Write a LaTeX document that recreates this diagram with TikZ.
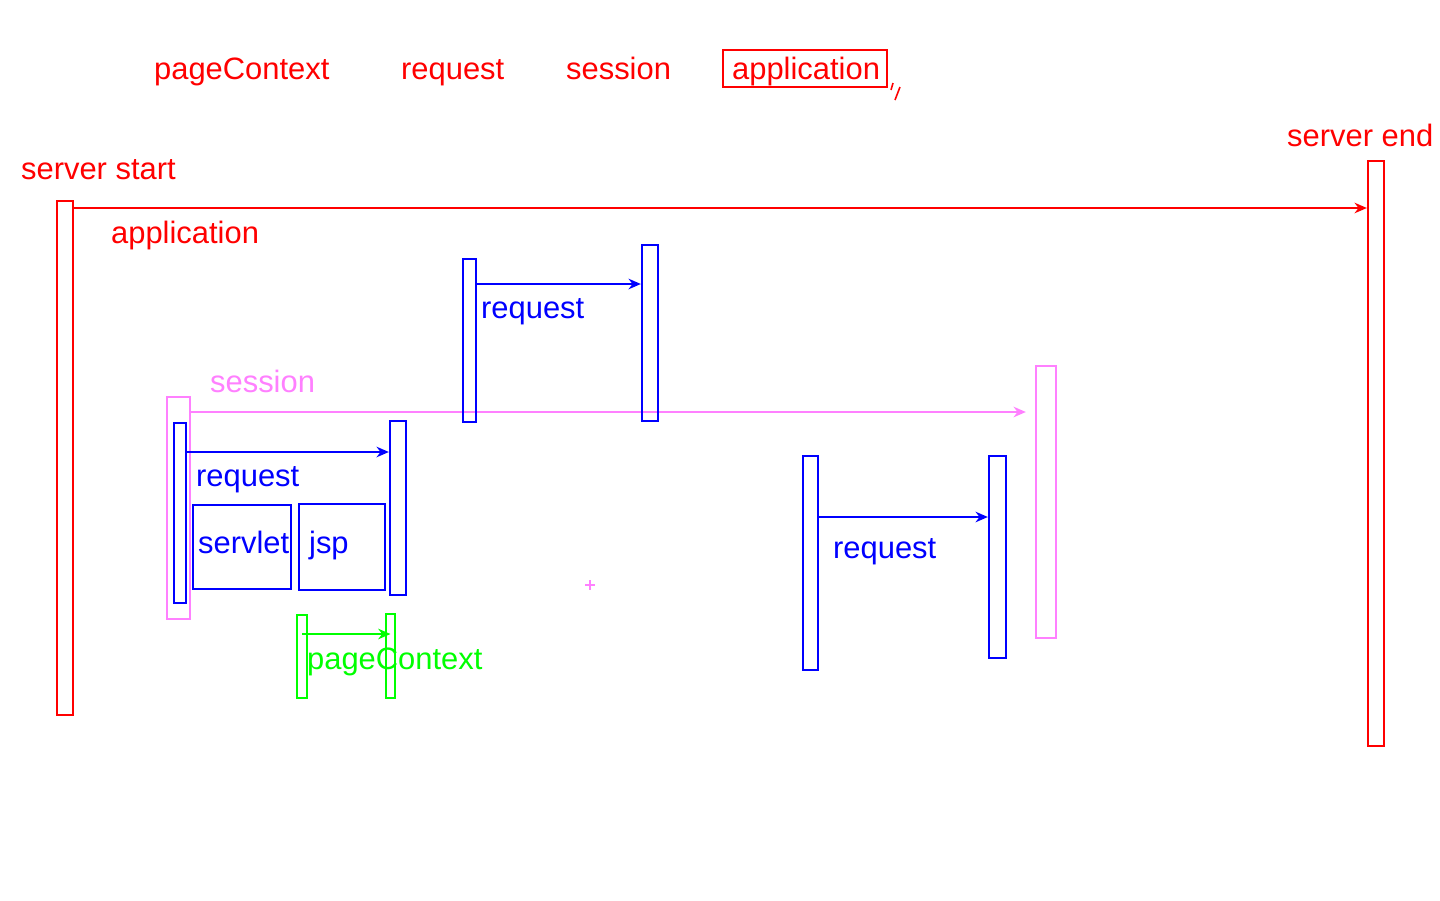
\documentclass[tikz,border=0pt]{standalone}
\usepackage{fontspec}
\setmainfont{Liberation Sans}
\usepackage{tikz}
\usetikzlibrary{arrows.meta,positioning,fit,calc}
\definecolor{sespink}{HTML}{FF80FF}
\definecolor{pcgreen}{HTML}{00FF00}

\begin{document}
\begin{tikzpicture}[x=0.02cm, y=-0.02cm, line width=1.3pt, >={Stealth[length=7pt,width=6pt]},
    bar/.style={draw, rectangle, inner sep=0pt, fill=none},
    lbl/.style={anchor=base west, inner sep=0pt, font=\fontsize{17.6}{20}\selectfont}]
    \useasboundingbox (0,0) rectangle (1440,900);

    % Legend on top
    \node[lbl, red] (lgPage) at (153,79) {pageContext};
    \node[lbl, red] (lgReq) at (400,79) {request};
    \node[lbl, red] (lgSes) at (565,79) {session};
    \node[bar, red, fit={(723,50) (887,87)}] (lgAppBox) {};
    \node[lbl, red] (lgApp) at (731,79) {application};
    \draw[red, line width=0.9pt] (893,83) -- (891,90) (900,87) -- (895,100);

    % Server lifetime (application)
    \node[bar, red, fit={(57,201) (73,715)}] (srvStart) {};
    \node[bar, red, fit={(1368,161) (1384,746)}] (srvEnd) {};
    \node[lbl, red] (lbStart) at (20,179) {server start};
    \node[lbl, red] (lbEnd) at (1286,146) {server end};
    \draw[->, red] (srvStart.east |- 0,208) -- (srvEnd.west |- 0,208);
    \node[lbl, red] (lbApp) at (110,243) {application};

    % Session
    \node[bar, sespink, fit={(167,397) (190,619)}] (sesL) {};
    \node[bar, sespink, fit={(1036,366) (1056,638)}] (sesR) {};
    \draw[->, sespink, shorten >=0.18cm] (sesL.east |- 0,412) -- (sesR.west |- 0,412);
    \node[lbl, sespink] (lbSes) at (209,392) {session};
    \draw[sespink, line width=0.9pt] (585,585) -- (595,585) (590,580) -- (590,590);

    % Requests
    \node[bar, blue, fit={(463,259) (476,422)}] (reqAL) {};
    \node[bar, blue, fit={(642,245) (658,421)}] (reqAR) {};
    \draw[->, blue] (reqAL.east |- 0,284) -- (reqAR.west |- 0,284);
    \node[lbl, blue] (lbReqA) at (480,318) {request};

    \node[bar, blue, fit={(174,423) (186,603)}] (reqBL) {};
    \node[bar, blue, fit={(390,421) (406,595)}] (reqBR) {};
    \draw[->, blue] (reqBL.east |- 0,452) -- (reqBR.west |- 0,452);
    \node[lbl, blue] (lbReqB) at (195,486) {request};
    \node[bar, blue, fit={(193,505) (291,589)}] (servlet) {};
    \node[bar, blue, fit={(299,504) (385,590)}] (jsp) {};
    \node[lbl, blue] (lbServlet) at (197,553) {servlet};
    \node[lbl, blue] (lbJsp) at (308,553) {jsp};

    \node[bar, blue, fit={(803,456) (818,670)}] (reqCL) {};
    \node[bar, blue, fit={(989,456) (1006,658)}] (reqCR) {};
    \draw[->, blue] (reqCL.east |- 0,517) -- (reqCR.west |- 0,517);
    \node[lbl, blue] (lbReqC) at (832,558) {request};

    % Page context
    \node[bar, pcgreen, fit={(297,615) (307,698)}] (pcL) {};
    \node[bar, pcgreen, fit={(386,614) (395,698)}] (pcR) {};
    \draw[->, pcgreen] (pcL.center |- 0,634) -- (pcR.center |- 0,634);
    \node[lbl, pcgreen] (lbPc) at (306,669) {pageContext};
\end{tikzpicture}
\end{document}
